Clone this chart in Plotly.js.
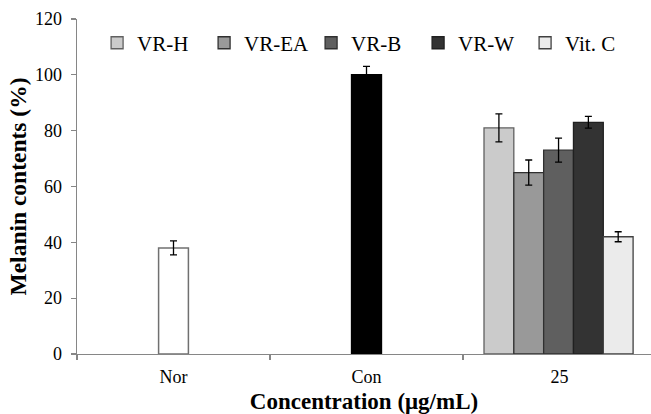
<!DOCTYPE html>
<html>
<head>
<meta charset="utf-8">
<script src="https://cdn.plot.ly/plotly-3.0.1.min.js"></script>
<style>html,body{margin:0;padding:0;background:#fff;}#chart{width:651px;height:414px;}</style>
</head>
<body>
<div id="chart"></div>
<script>
// Data
var categories = ['Nor', 'Con', '25'];
var controlNames = ['Nor', 'Con'];
var controlValues = [38, 100];
var controlErrors = [2.5, 3];
var groupNames = ['VR-H', 'VR-EA', 'VR-B', 'VR-W', 'Vit. C'];
var groupValues = [81, 65, 73, 83, 42];
var groupErrors = [5, 4.5, 4.3, 2.1, 1.8];
var groupCategory = '25';

// Styles
var controlColors = ['#ffffff', '#000000'];
var controlLines = ['#707070', '#000000'];
var groupColors = ['#cbcbcb', '#999999', '#5f5f5f', '#333333', '#ebebeb'];
var groupLines = ['#606060', '#303030', '#303030', '#202020', '#404040'];
var barW = 0.1545;

var traces = [];
controlNames.forEach(function (n, i) {
  traces.push({
    type: 'bar', name: n, x: [n], y: [controlValues[i]],
    width: barW, offset: -barW / 2, showlegend: false,
    marker: {color: controlColors[i], line: {color: controlLines[i], width: 1.5}},
    error_y: {type: 'data', array: [controlErrors[i]], visible: true, color: '#000', thickness: 1.3, width: 3.5}
  });
});
groupNames.forEach(function (n, i) {
  traces.push({
    type: 'bar', name: n, x: [groupCategory], y: [groupValues[i]],
    width: barW, offset: -2.5 * barW + i * barW - 0.005,
    marker: {color: groupColors[i], line: {color: groupLines[i], width: 1.3}},
    error_y: {type: 'data', array: [groupErrors[i]], visible: true, color: '#000', thickness: 1.3, width: 3.5}
  });
});

var serif = 'Liberation Serif';
var layout = {
  width: 651, height: 414,
  margin: {l: 77, r: 0, t: 19, b: 60},
  paper_bgcolor: '#fff', plot_bgcolor: '#fff',
  barmode: 'overlay',
  font: {family: serif, color: '#000', size: 18},
  xaxis: {
    type: 'category', categoryorder: 'array', categoryarray: categories,
    range: [-0.5, 2.474], showgrid: false, zeroline: false,
    showline: true, linecolor: '#868686', linewidth: 1.3,
    ticks: 'outside', tickson: 'boundaries', ticklen: 5, tickcolor: '#868686', tickwidth: 1.3,
    tickfont: {family: serif, size: 18, color: '#000'},
    ticklabelstandoff: 6,
    title: {text: 'Concentration (\u03bcg/mL)', font: {family: serif, size: 23, color: '#000', weight: 'bold'}, standoff: 10}
  },
  yaxis: {
    range: [0, 120], dtick: 20, showgrid: false, zeroline: false,
    showline: true, linecolor: '#868686', linewidth: 1.3,
    ticks: 'outside', ticklen: 5, tickcolor: '#868686', tickwidth: 1.3,
    tickfont: {family: serif, size: 18, color: '#000'},
    ticklabelstandoff: 5,
    title: {text: 'Melanin contents (%)', font: {family: serif, size: 23.5, color: '#000', weight: 'bold'}, standoff: 2}
  },
  legend: {
    orientation: 'h', x: 0.035, y: 0.928, xanchor: 'left', yanchor: 'middle',
    bgcolor: 'rgba(0,0,0,0)', font: {family: serif, size: 21, color: '#000'},
    entrywidth: 62, entrywidthmode: 'pixels',
    traceorder: 'normal'
  },
  showlegend: true
};

Plotly.newPlot('chart', traces, layout, {displayModeBar: false, staticPlot: true});
</script>
</body>
</html>
